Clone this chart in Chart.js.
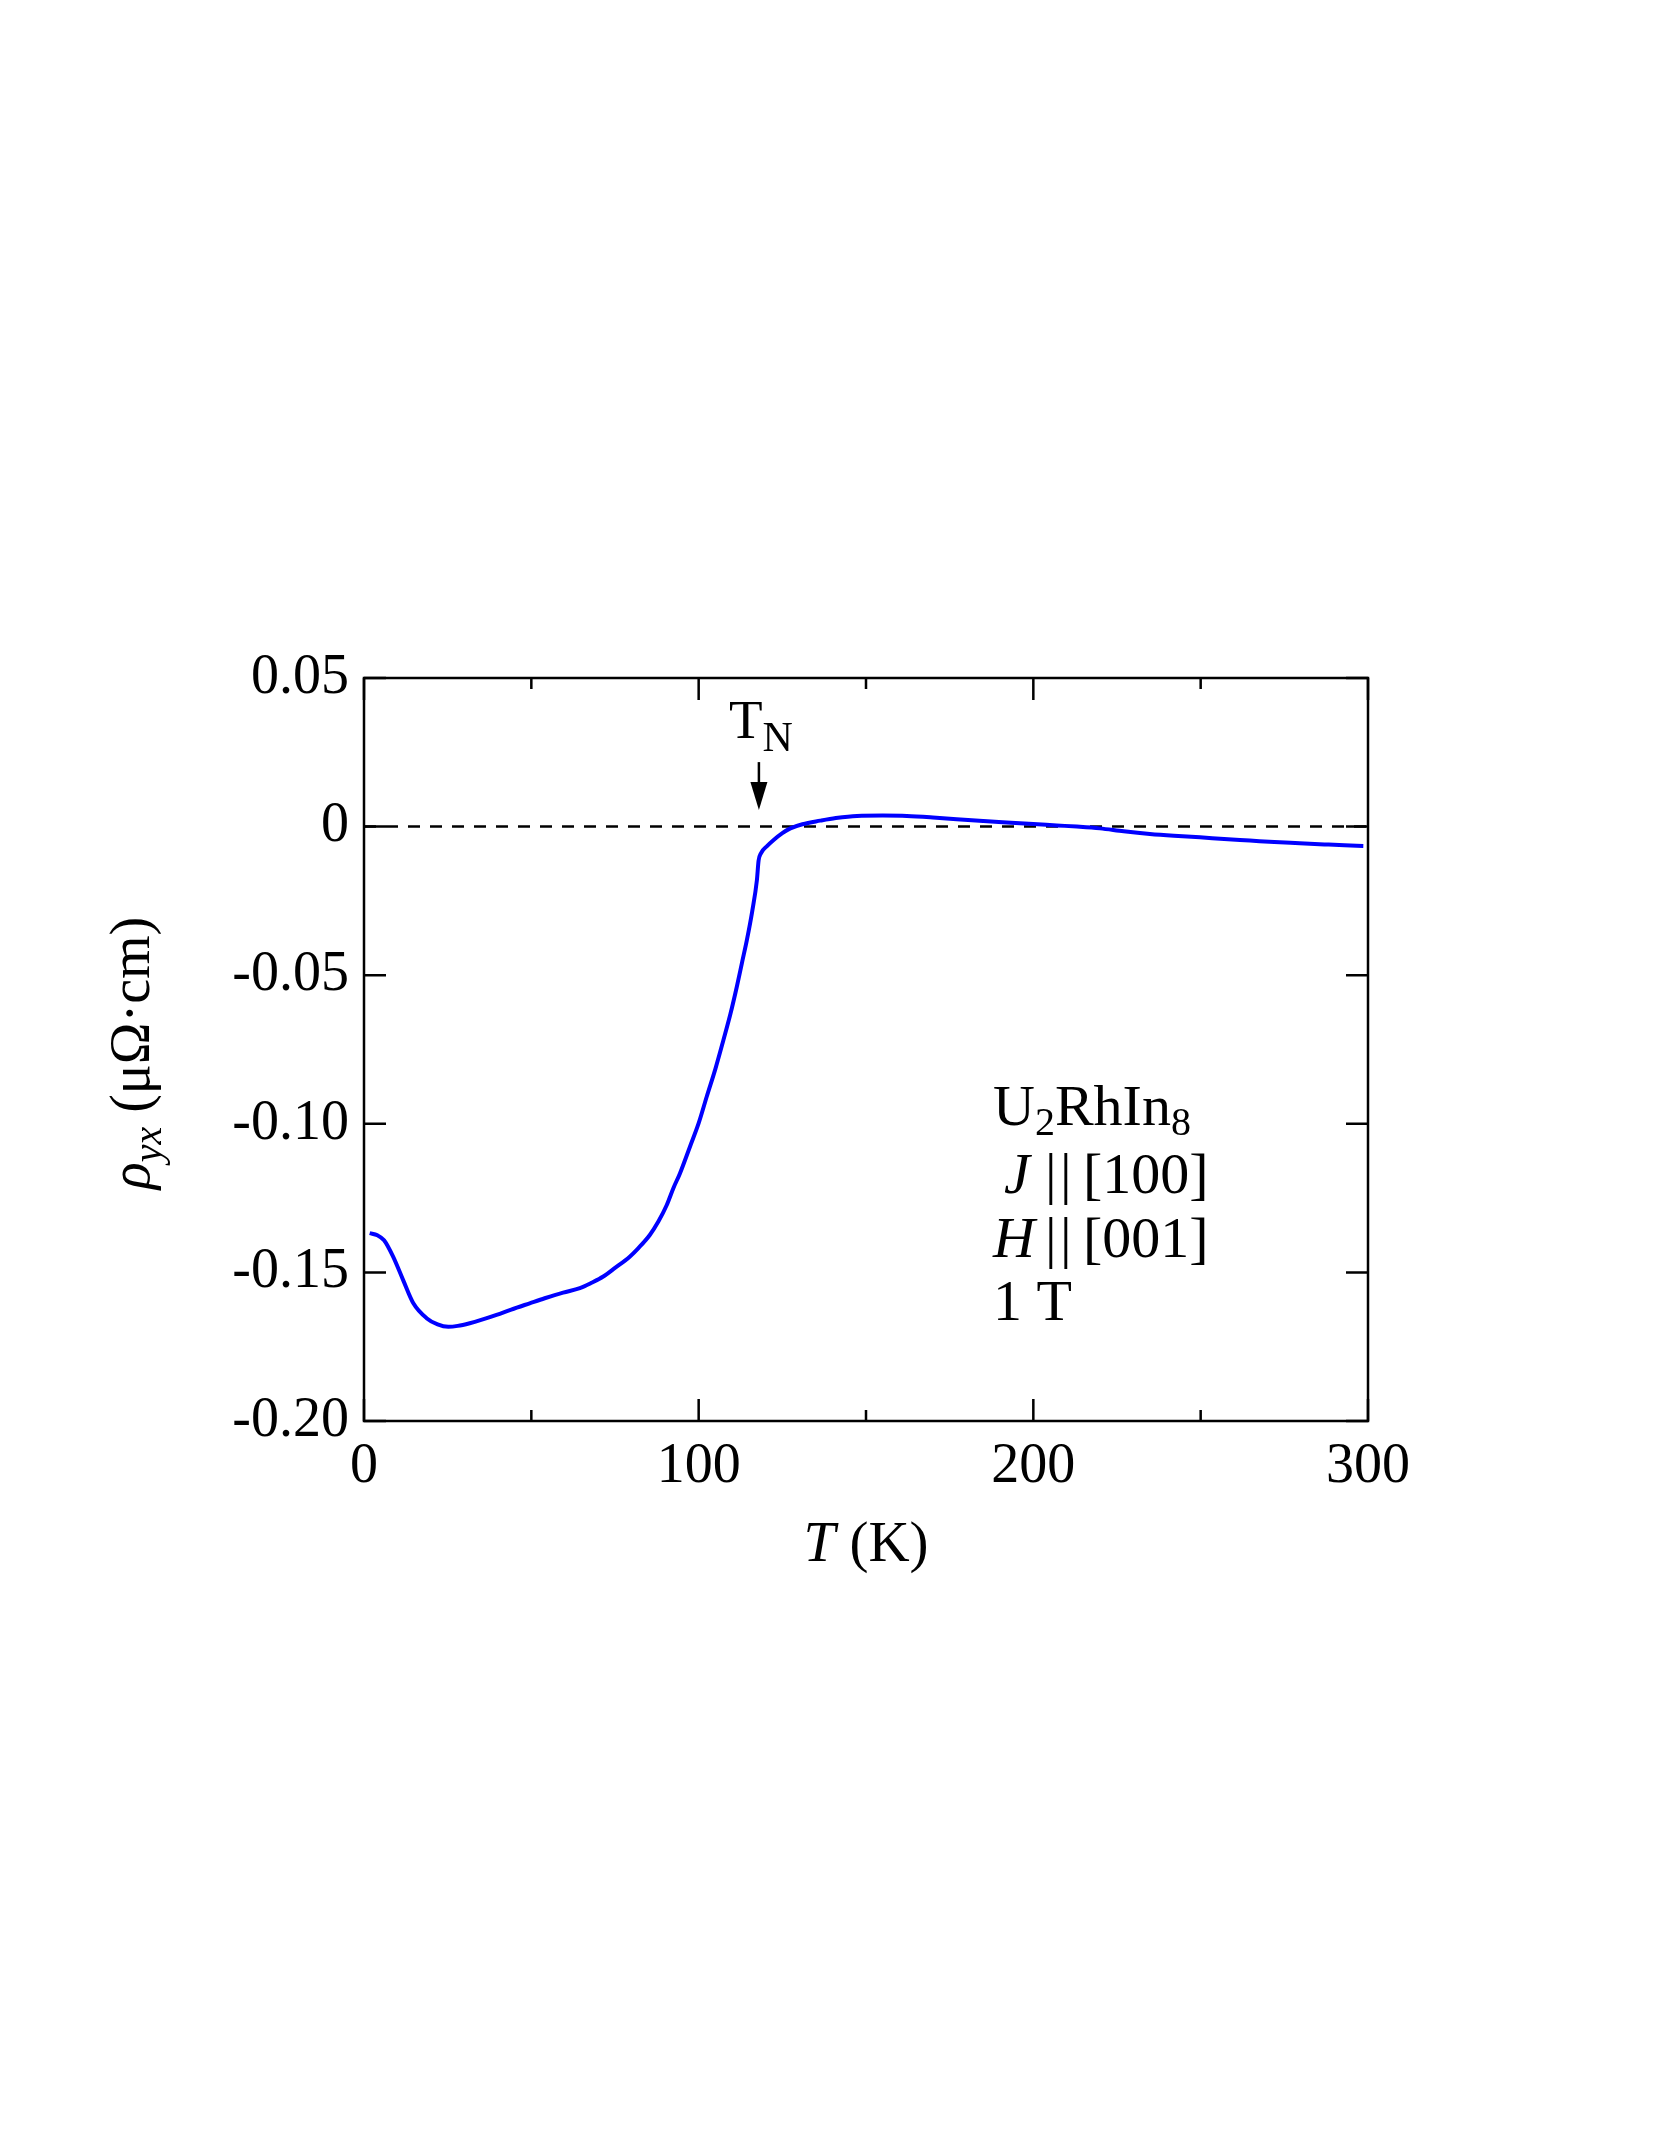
<!DOCTYPE html>
<html>
<head>
<meta charset="utf-8">
<script src="https://cdn.jsdelivr.net/npm/chart.js@4/dist/chart.umd.min.js"></script>
<style>html,body{margin:0;background:#fff}</style>
</head>
<body>
<canvas id="c" width="1661" height="2149"></canvas>
<script>
// temperature (K) and Hall resistivity (μΩ·cm)
const temps = [1.7, 4, 6, 8.7, 11.7, 14.7, 18.7, 22, 25.2, 28, 31.6, 35, 39.6, 44, 49.5, 54, 59.5, 64.5, 68, 71.5,
  75, 79.4, 82, 85.4, 88, 90.4, 92.5, 94.4, 97.4, 100, 102.4, 105, 107.4, 109.5, 111.4, 113, 114.4, 116, 117.4, 117.9,
  118.6, 120.5, 122.4, 125, 127.4, 131, 136.3, 141, 147.3, 155, 162.2, 170, 177.1, 185, 192, 200, 207, 213, 219.9, 227,
  234.8, 242, 249.8, 257, 264.7, 272, 279.6, 287, 293, 298.6];
const rhoYX = [-0.1368, -0.1375, -0.1392, -0.1447, -0.1526, -0.1603, -0.1654, -0.1675, -0.1683, -0.1680, -0.1671, -0.1660, -0.1643, -0.1625, -0.1604, -0.1587, -0.1568, -0.1553, -0.1535, -0.1514,
  -0.1485, -0.1447, -0.1418, -0.1374, -0.1328, -0.1275, -0.1215, -0.1167, -0.1077, -0.0998, -0.0909, -0.0815, -0.0718, -0.0630, -0.0539, -0.0455, -0.0382, -0.0285, -0.0180, -0.0115,
  -0.0090, -0.0065, -0.0045, -0.0022, -0.0006, 0.0008, 0.0020, 0.0029, 0.0036, 0.0037, 0.0036, 0.0031, 0.0025, 0.0019, 0.0014, 0.0009, 0.0004, 0.0000, -0.0006, -0.0016,
  -0.0025, -0.0031, -0.0036, -0.0042, -0.0047, -0.0052, -0.0056, -0.0060, -0.0063, -0.0065];

const xTicks = [0, 50, 100, 150, 200, 250, 300];
const xMajor = [0, 100, 200, 300];
const yTicks = [0.05, 0, -0.05, -0.10, -0.15, -0.20];
const yTickLabels = ["0.05", "0", "-0.05", "-0.10", "-0.15", "-0.20"];
const zeroT = [0, 300];
const zeroV = [0, 0];
const T_N = 118;

const SERIF = '"Liberation Serif", "Times New Roman", serif';

// draw runs of text with different fonts / baseline shifts; p.x forces an absolute start
function runs(ctx, parts, x, y) {
  parts.forEach(p => {
    ctx.font = p.f;
    if (p.x !== undefined) x = p.x;
    ctx.fillText(p.t, x, y + (p.dy || 0));
    x += ctx.measureText(p.t).width;
  });
}
function runsWidth(ctx, parts) {
  let w = 0;
  parts.forEach(p => { ctx.font = p.f; w += ctx.measureText(p.t).width; });
  return w;
}

const decor = {
  id: "decor",
  afterDraw(chart) {
    const { ctx, chartArea: a, scales: { x, y } } = chart;
    ctx.save();
    ctx.strokeStyle = "#000";
    ctx.fillStyle = "#000";
    ctx.lineWidth = 2.5;
    ctx.strokeRect(a.left, a.top, a.right - a.left, a.bottom - a.top);

    // inward ticks on all four sides
    ctx.beginPath();
    x.ticks.forEach(t => {
      const px = x.getPixelForValue(t.value);
      const len = xMajor.includes(t.value) ? 22 : 11;
      ctx.moveTo(px, a.bottom); ctx.lineTo(px, a.bottom - len);
      ctx.moveTo(px, a.top); ctx.lineTo(px, a.top + len);
    });
    y.ticks.forEach(t => {
      const py = y.getPixelForValue(t.value);
      ctx.moveTo(a.left, py); ctx.lineTo(a.left + 22, py);
      ctx.moveTo(a.right, py); ctx.lineTo(a.right - 22, py);
    });
    ctx.stroke();

    // T_N arrow
    const ax = x.getPixelForValue(T_N);
    const yTop = y.getPixelForValue(0.0217);
    const yTip = y.getPixelForValue(0.0056);
    ctx.beginPath();
    ctx.moveTo(ax, yTop); ctx.lineTo(ax, yTip - 20);
    ctx.stroke();
    ctx.beginPath();
    ctx.moveTo(ax - 8.5, yTip - 28);
    ctx.lineTo(ax + 8.5, yTip - 28);
    ctx.lineTo(ax, yTip);
    ctx.closePath();
    ctx.fill();
    runs(ctx, [
      { t: "T", f: `55px ${SERIF}` },
      { t: "N", f: `42px ${SERIF}`, dy: 13 }
    ], ax - 30, yTop - 24);

    // sample annotation
    const F = `58px ${SERIF}`, FI = `italic 58px ${SERIF}`, FS = `40px ${SERIF}`;
    runs(ctx, [{ t: "U", f: F }, { t: "2", f: FS, dy: 10 }, { t: "RhIn", f: F }, { t: "8", f: FS, dy: 10 }], 993, 1125);
    runs(ctx, [{ t: "J", f: FI, x: 1004 }, { t: "|", f: F, x: 1045 }, { t: "|", f: F, x: 1060 }, { t: "[100]", f: F, x: 1083 }], 0, 1193);
    runs(ctx, [{ t: "H", f: FI, x: 993 }, { t: "|", f: F, x: 1045 }, { t: "|", f: F, x: 1060 }, { t: "[001]", f: F, x: 1083 }], 0, 1257);
    runs(ctx, [{ t: "1 T", f: F }], 993, 1320);

    // x axis title
    const xt = [{ t: "T", f: `italic 57px ${SERIF}` }, { t: " (K)", f: `57px ${SERIF}` }];
    runs(ctx, xt, (a.left + a.right) / 2 - runsWidth(ctx, xt) / 2, 1561);

    // y axis title
    const yt = [
      { t: "ρ", f: `italic 56px ${SERIF}` },
      { t: "yx", f: `italic 40px ${SERIF}`, dy: 12 },
      { t: " (μΩ·cm)", f: `56px ${SERIF}` }
    ];
    ctx.translate(149, 1053);
    ctx.rotate(-Math.PI / 2);
    runs(ctx, yt, -runsWidth(ctx, yt) / 2, 0);
    ctx.restore();
  }
};

new Chart(document.getElementById("c"), {
  type: "scatter",
  data: {
    datasets: [
      {
        data: temps.map((t, i) => ({ x: t, y: rhoYX[i] })),
        showLine: true,
        borderColor: "#0000ff",
        borderWidth: 4,
        pointRadius: 0,
        cubicInterpolationMode: "monotone",
        order: 1
      },
      {
        data: zeroT.map((t, i) => ({ x: t, y: zeroV[i] })),
        showLine: true,
        borderColor: "#000",
        borderWidth: 2.5,
        borderDash: [12, 10],
        pointRadius: 0,
        order: 2
      }
    ]
  },
  options: {
    responsive: false,
    devicePixelRatio: 1,
    animation: false,
    layout: { padding: { left: 0, top: 678, right: 293, bottom: 0 } },
    plugins: { legend: { display: false }, tooltip: { enabled: false } },
    scales: {
      x: {
        type: "linear",
        min: 0,
        max: 300,
        afterBuildTicks: s => { s.ticks = xTicks.map(v => ({ value: v })); },
        afterFit: s => { s.height = 2149 - 1421; },
        grid: { display: false, drawTicks: false },
        border: { display: false },
        ticks: {
          padding: 13,
          color: "#000",
          font: { family: SERIF, size: 56 },
          callback: v => (xMajor.includes(v) ? String(v) : "")
        }
      },
      y: {
        min: -0.2,
        max: 0.05,
        afterBuildTicks: s => { s.ticks = yTicks.map(v => ({ value: v })); },
        afterFit: s => { s.width = 364; },
        grid: { display: false, drawTicks: false },
        border: { display: false },
        ticks: {
          padding: 15,
          color: "#000",
          font: { family: SERIF, size: 56 },
          callback: (v, i) => yTickLabels[i]
        }
      }
    }
  },
  plugins: [decor]
});
</script>
</body>
</html>
